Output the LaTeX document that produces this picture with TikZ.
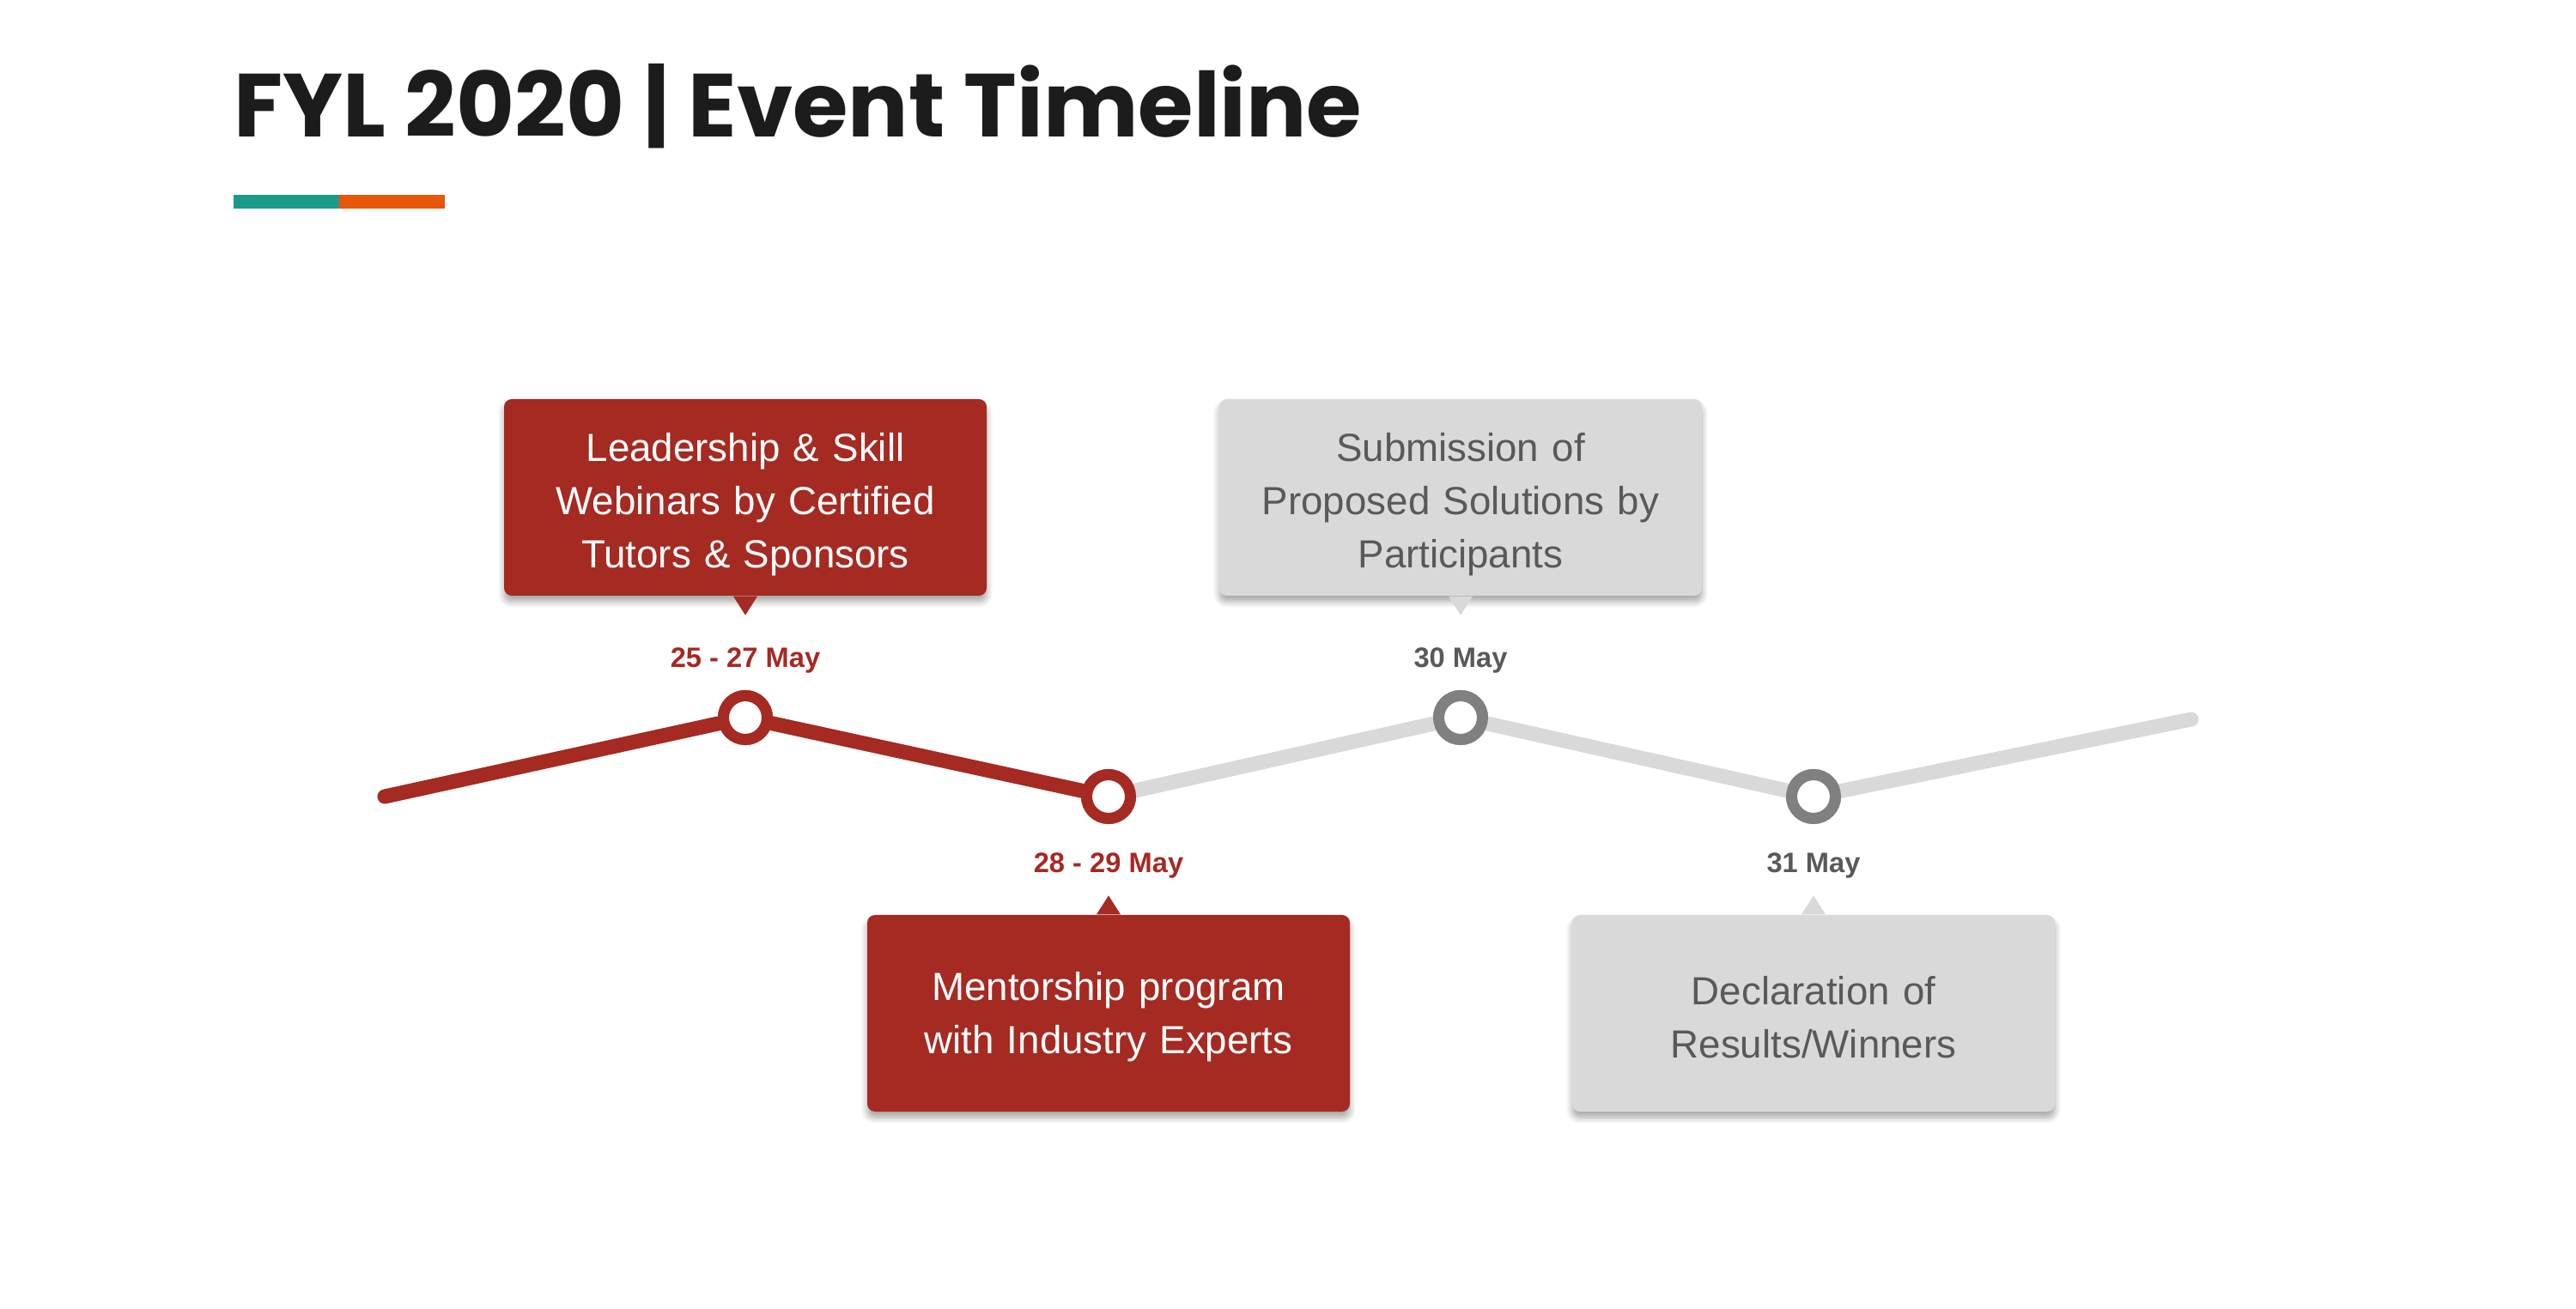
\documentclass[tikz,border=0pt]{standalone}
\usepackage{fontspec}
\setmainfont{Liberation Sans}
\newfontfamily\titlefont{Poppins}
\usepackage{tikz}
\usetikzlibrary{positioning,shadows.blur}

\definecolor{fylred}{HTML}{A52A22}
\definecolor{fylgray}{HTML}{D9D9D9}
\definecolor{fylgraytext}{HTML}{595959}
\definecolor{fylring}{HTML}{808080}
\definecolor{fylteal}{HTML}{1A9A8A}
\definecolor{fylorange}{HTML}{E8560A}
\definecolor{fylblack}{HTML}{1C1C1C}

\begin{document}
\begin{tikzpicture}[node distance=0.5cm]
\tikzstyle{eventbox}=[rectangle,rounded corners=0.09cm,text width=5.62cm,minimum height=2.29cm,align=center,inner sep=0pt,font=\fontsize{13}{17.6}\selectfont,blur shadow={shadow blur steps=8,shadow xshift=0cm,shadow yshift=-0.07cm,shadow opacity=35}]
\tikzstyle{upbox}=[execute at begin node={\rule{0pt}{0.5cm}}]
\tikzstyle{lowbox}=[execute at begin node={\rule{0pt}{0.42cm}}]
\tikzstyle{redbox}=[eventbox,fill=fylred,text=white]
\tikzstyle{graybox}=[eventbox,fill=fylgray,text=fylgraytext]
\tikzstyle{stopA}=[draw=fylred,circle,fill=white,line width=0.13cm,minimum size=0.51cm,inner sep=0pt]
\tikzstyle{stopB}=[draw=fylring,circle,fill=white,line width=0.13cm,minimum size=0.51cm,inner sep=0pt]
\tikzstyle{dateA}=[font=\fontsize{9.3}{11}\bfseries,text=fylred]
\tikzstyle{dateB}=[font=\fontsize{9.3}{11}\bfseries,text=fylgraytext]

\useasboundingbox (0,0) rectangle (30,15.24);

% title
\node [anchor=base west,inner sep=0pt,text=fylblack,font=\titlefont\fontsize{29.7}{34}\bfseries] (title) at (2.72,13.64) {FYL 2020 | Event Timeline};
\fill [fylteal] (2.72,12.81) rectangle (3.95,12.97);
\fill [fylorange] (3.95,12.81) rectangle (5.18,12.97);

% timeline
\coordinate (S) at (4.48,5.96);
\coordinate (T) at (25.52,6.86);
\node [stopA] (A) at (8.68,6.88) {};
\node [stopA] (B) at (12.91,5.96) {};
\node [stopB] (C) at (17.01,6.88) {};
\node [stopB] (D) at (21.12,5.96) {};

\draw [fylgray,line width=0.17cm,line cap=round] (B) -- (C) -- (D) -- (T);
\draw [fylred,line width=0.17cm,line cap=round] (S) -- (A) -- (B);
\node [stopA] at (A) {};
\node [stopA] at (B) {};
\node [stopB] at (C) {};
\node [stopB] at (D) {};

% dates
\node [dateA] (dA) at (8.68,7.55) {25 - 27 May};
\node [dateA] (dB) at (12.91,5.16) {28 - 29 May};
\node [dateB] (dC) at (17.01,7.55) {30 May};
\node [dateB] (dD) at (21.12,5.16) {31 May};

% boxes
\node [redbox,upbox] (bA) at (8.68,9.445) {Leadership \& Skill\\Webinars by Certified\\Tutors \& Sponsors};
\node [redbox,lowbox] (bB) at (12.91,3.435) {Mentorship program\\with Industry Experts};
\node [graybox,upbox] (bC) at (17.01,9.445) {Submission of\\Proposed Solutions by\\Participants};
\node [graybox,lowbox] (bD) at (21.12,3.435) {Declaration of\\Results/Winners};

% pointers
\fill [fylred] ([xshift=-0.14cm]bA.south) -- ([xshift=0.14cm]bA.south) -- ([yshift=-0.22cm]bA.south) -- cycle;
\fill [fylgray] ([xshift=-0.14cm]bC.south) -- ([xshift=0.14cm]bC.south) -- ([yshift=-0.22cm]bC.south) -- cycle;
\fill [fylred] ([xshift=-0.14cm]bB.north) -- ([xshift=0.14cm]bB.north) -- ([yshift=0.22cm]bB.north) -- cycle;
\fill [fylgray] ([xshift=-0.14cm]bD.north) -- ([xshift=0.14cm]bD.north) -- ([yshift=0.22cm]bD.north) -- cycle;
\end{tikzpicture}
\end{document}
